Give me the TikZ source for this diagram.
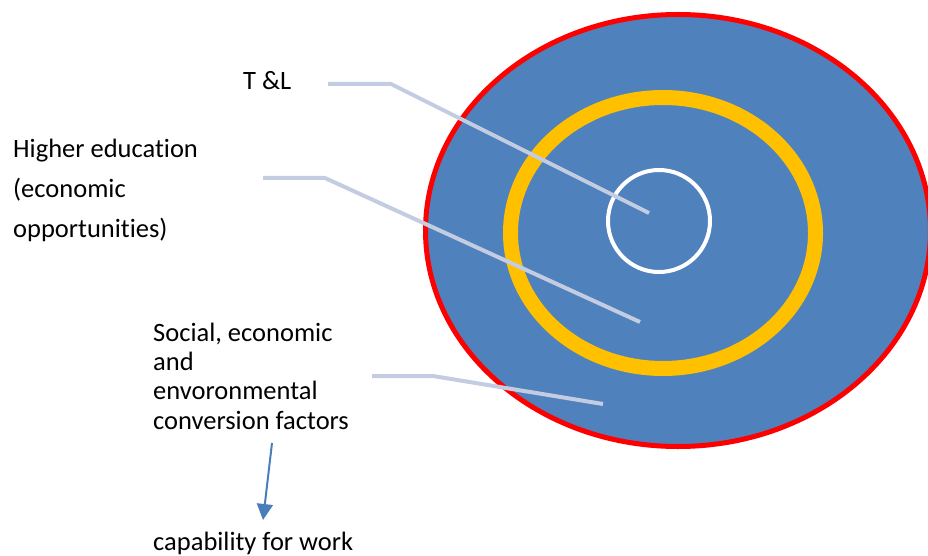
\documentclass[tikz,border=0pt]{standalone}
\usepackage{fontspec}
\setmainfont{Carlito}[Ligatures=NoCommon]
\usetikzlibrary{arrows.meta}
\definecolor{ringblue}{HTML}{4F81BD}
\definecolor{ringred}{HTML}{FF0000}
\definecolor{ringgold}{HTML}{FFC000}
\definecolor{pointergrey}{HTML}{C3CCE1}
\definecolor{arrowblue}{HTML}{4A7EBB}
\begin{document}
\begin{tikzpicture}[x=1pt,y=-1pt,
  pointer/.style={draw=pointergrey,line width=4pt},
  caption/.style={anchor=base west,inner sep=0pt,align=left,
    font=\fontsize{26.5}{29.3}\selectfont}]

  \useasboundingbox (0,0) rectangle (928,556);
  \clip (0,0) rectangle (928,556);

  % rings
  \draw[ringred,fill=ringblue,line width=5pt] (678,230.5) ellipse [x radius=252.5,y radius=216];
  \draw[ringgold,line width=15pt] (663,233) ellipse [x radius=152.5,y radius=135.5];
  \draw[white,line width=4pt] (659,221) circle [radius=51];

  % labels (base = last line)
  \node[caption] (tl) at (243,90) {T \&L};
  \node[caption,font=\fontsize{26.5}{40}\selectfont] (hed) at (13,237)
    {Higher education\\(economic\\opportunities)};
  \node[caption] (scf) at (153,429)
    {Social, economic\\and\\envoronmental\\conversion factors};
  \node[caption] (work) at (153,550) {capability for work};

  \coordinate (tl a) at (328,84);
  \coordinate (tl b) at (391,84);
  \coordinate (tl c) at (649,213);
  \coordinate (hed a) at (263,178);
  \coordinate (hed b) at (325,178);
  \coordinate (hed c) at (640,322);
  \coordinate (scf a) at (372,376);
  \coordinate (scf b) at (433,376);
  \coordinate (scf c) at (603,404);
  \coordinate (scf d) at (272,443);
  \coordinate (work a) at (263,520);

  \draw[pointer] (tl a) -- (tl b) -- (tl c);
  \draw[pointer] (hed a) -- (hed b) -- (hed c);
  \draw[pointer] (scf a) -- (scf b) -- (scf c);
  \draw[arrowblue,line width=2pt,-{Triangle[length=16pt,width=16pt]}] (scf d) -- (work a);
\end{tikzpicture}
\end{document}
